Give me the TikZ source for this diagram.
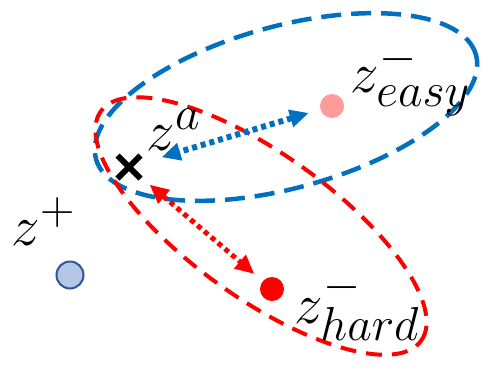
\documentclass[tikz,border=0pt]{standalone}
\usetikzlibrary{arrows.meta, shapes.misc}
\definecolor{ablue}{HTML}{0070C0}
\definecolor{ared}{HTML}{FF0000}
\definecolor{apink}{HTML}{FF9B9B}
\definecolor{posfill}{HTML}{B4C7E7}
\definecolor{posdraw}{HTML}{2F5597}

\begin{document}
\begin{tikzpicture}[x=1pt, y=1pt,
        region/.style={line width=4.5pt, dash pattern=on 20pt off 10pt},
        dot/.style={circle, inner sep=0pt, minimum size=24pt},
        lab/.style={anchor=base west, inner sep=0pt, font=\Huge, scale=2.3, transform shape},
        pull/.style={line width=6pt, dash pattern=on 5pt off 4pt, {Triangle[length=19pt,width=17pt]}-{Triangle[length=19pt,width=17pt]}}
    ]
        \useasboundingbox (0,0) rectangle (481,368);

        % Regions
        \draw[region, ablue] (286,261) ellipse [x radius=197, y radius=81, rotate=15.3];
        \draw[region, ared, line width=4pt, dash pattern=on 16pt off 10pt] (261,142) ellipse [x radius=197, y radius=72, rotate=-35.6];

        % Points
        \node[cross out, draw=black, line width=6pt, minimum size=17pt, inner sep=0pt] (za) at (129,201) {};
        \node[dot, fill=posfill, draw=posdraw, line width=2pt, minimum size=27pt] (zpos) at (70,93) {};
        \node[dot, fill=apink] (zeasy) at (332,262) {};
        \node[dot, fill=ared] (zhard) at (272,79) {};

        % Labels
        \node[lab] (la) at (146,218) {$z^{a}$};
        \node[lab] (lpos) at (11,123) {$z^{+}$};
        \node[lab] (leasy) at (350,276) {$z^{-}_{easy}$};
        \node[lab] (lhard) at (294,45) {$z^{-}_{hard}$};

        % Connections
        \draw[pull, ablue, shorten <=12pt, shorten >=22pt] (zeasy) -- (za);
        \draw[pull, ared, line width=5pt, shorten <=12pt, shorten >=11pt] (za) -- (zhard);

    \end{tikzpicture}
\end{document}
